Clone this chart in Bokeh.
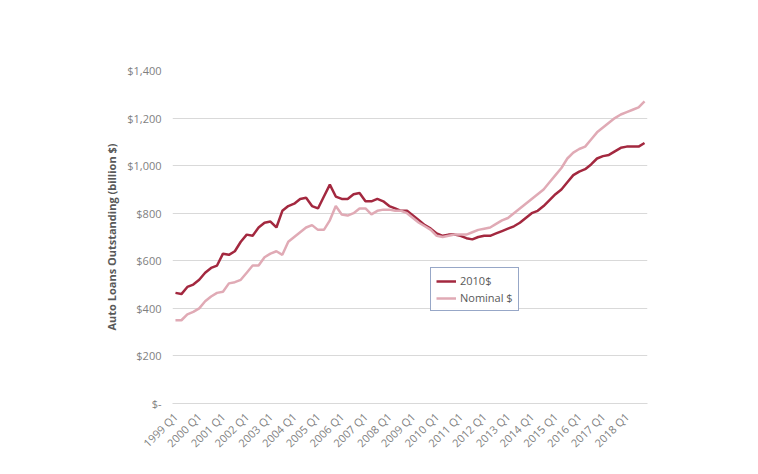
from bokeh.plotting import figure
from bokeh.models import ColumnDataSource, FixedTicker, Label, Legend, LegendItem, Range1d
from bokeh.embed import file_html
from bokeh.resources import INLINE
import math

years = list(range(1999, 2019))
real_2010 = [465,460,490,500, 520,550,570,580, 630,625,640,680, 710,705,740,760,
             765,740,810,830, 840,860,865,830, 820,870,920,870, 860,860,880,885,
             850,850,860,850, 830,820,810,810, 790,770,750,735, 715,705,710,710,
             705,695,690,700, 705,705,715,725, 735,745,760,780, 800,810,830,855,
             880,900,930,960, 975,985,1005,1030, 1040,1045,1060,1075, 1080,1080,1080,1095]
nominal = [350,350,375,385, 400,430,450,465, 470,505,510,520, 550,580,580,615,
           630,640,625,680, 700,720,740,750, 730,730,770,830, 795,790,800,820,
           820,795,810,815, 815,810,810,800, 780,760,745,730, 705,700,705,710,
           710,710,720,730, 735,740,755,770, 780,800,820,840, 860,880,900,930,
           960,990,1030,1055, 1070,1080,1110,1140, 1160,1180,1200,1215, 1225,1235,1245,1270]
tick_labels = [f"{y} Q1" for y in years]

x = list(range(len(real_2010)))
src = ColumnDataSource(dict(x=x, real=real_2010, nom=nominal))

p = figure(width=742, height=458, output_backend="svg", toolbar_location=None,
           x_range=Range1d(-0.5, 79.5), y_range=Range1d(0, 1400),
           min_border_left=172, min_border_top=70, min_border_bottom=48, min_border_right=95)
p.outline_line_color = None
p.xgrid.grid_line_color = None
p.ygrid.grid_line_color = "#d9d9d9"
p.yaxis.ticker = FixedTicker(ticks=[0,200,400,600,800,1000,1200,1400])
p.yaxis.major_label_overrides = {0: "$-", 200: "$200", 400: "$400", 600: "$600", 800: "$800",
                                 1000: "$1,000", 1200: "$1,200", 1400: "$1,400"}
p.xaxis.ticker = FixedTicker(ticks=[i*4 for i in range(len(years))])
p.xaxis.major_label_overrides = {i*4: lab for i, lab in enumerate(tick_labels)}
p.xaxis.major_label_orientation = math.pi/4
for ax in (p.xaxis, p.yaxis):
    ax.axis_line_color = None
    ax.major_tick_line_color = None
    ax.minor_tick_line_color = None
    ax.major_label_text_color = "#7f7f7f"
    ax.major_label_text_font = "Open Sans"
    ax.major_label_text_font_size = "11px"
p.xaxis.axis_line_color = "#d9d9d9"
p.yaxis.axis_label = "Auto Loans Outstanding (billion $)"
p.yaxis.axis_label_text_font = "Open Sans"
p.yaxis.axis_label_text_font_style = "bold"
p.yaxis.axis_label_text_font_size = "11px"
p.yaxis.axis_label_text_color = "#595959"

r1 = p.line("x", "real", source=src, line_color="#a3283f", line_width=2.5)
r2 = p.line("x", "nom", source=src, line_color="#e0aab5", line_width=2.5)

leg = Legend(items=[LegendItem(label="2010$", renderers=[r1]), LegendItem(label="Nominal $", renderers=[r2])],
             location=(258, 92), border_line_color="#2f4f8f", border_line_width=1,
             label_text_font="Open Sans", label_text_font_size="11px", label_text_color="#595959",
             glyph_width=20, glyph_height=14, label_height=14, spacing=2, padding=5, margin=0,
             label_standoff=4)
p.add_layout(leg, "center")

p.add_layout(Label(x=-164, y=362, x_units="screen", y_units="screen",
                   text="FIGURE ES-2. AUTO DEBT OUTSTANDING¹¹", text_font="Roboto",
                   text_font_size="20px", text_color="#b8546a"))

open("out.html", "w").write(file_html(p, INLINE))
